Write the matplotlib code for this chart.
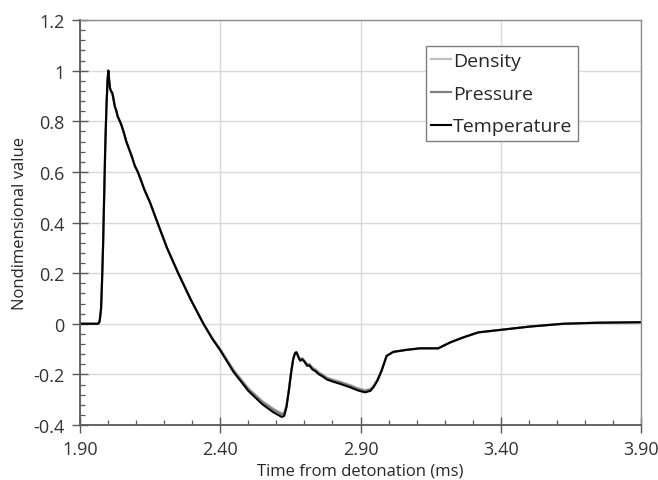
import matplotlib
matplotlib.use("Agg")
import matplotlib.pyplot as plt
from matplotlib.ticker import MultipleLocator, FormatStrFormatter

plt.rcParams['font.family'] = ['Open Sans', 'DejaVu Sans']

# time from detonation (ms)
t = [1.900, 1.965, 1.970, 1.975, 1.978, 1.982, 1.986, 1.990, 1.994, 1.998,
     2.001, 2.004, 2.007, 2.011, 2.015, 2.019, 2.024, 2.030, 2.034, 2.040,
     2.046, 2.055, 2.065, 2.075, 2.085, 2.095, 2.106, 2.118, 2.129, 2.150,
     2.176, 2.210, 2.250, 2.295, 2.340, 2.372, 2.400, 2.447, 2.500, 2.550,
     2.590, 2.619, 2.628, 2.636, 2.645, 2.653, 2.660, 2.667, 2.672, 2.678,
     2.685, 2.692, 2.700, 2.710, 2.718, 2.728, 2.740, 2.752, 2.765, 2.780,
     2.800, 2.829, 2.863, 2.890, 2.916, 2.935, 2.946, 2.960, 2.975, 2.993,
     3.017, 3.064, 3.112, 3.177, 3.219, 3.266, 3.320, 3.400, 3.504, 3.623,
     3.742, 3.900]

temperature = [0.000, 0.000, 0.010, 0.060, 0.150, 0.300, 0.500, 0.700, 0.850, 0.960,
               1.000, 0.960, 0.930, 0.918, 0.912, 0.890, 0.859, 0.840, 0.820, 0.805,
               0.790, 0.760, 0.720, 0.690, 0.660, 0.625, 0.600, 0.565, 0.531, 0.478,
               0.400, 0.300, 0.200, 0.095, 0.000, -0.060, -0.105, -0.190, -0.265, -0.318,
               -0.350, -0.368, -0.364, -0.330, -0.260, -0.190, -0.140, -0.115, -0.113, -0.130,
               -0.146, -0.140, -0.150, -0.166, -0.165, -0.180, -0.188, -0.200, -0.208, -0.220,
               -0.228, -0.238, -0.251, -0.263, -0.271, -0.265, -0.251, -0.225, -0.186, -0.127,
               -0.111, -0.103, -0.097, -0.097, -0.074, -0.054, -0.034, -0.024, -0.011, 0.000,
               0.004, 0.006]

pressure = [0.000, 0.000, 0.010, 0.060, 0.150, 0.300, 0.500, 0.700, 0.850, 0.960,
            1.000, 0.960, 0.930, 0.918, 0.912, 0.890, 0.859, 0.840, 0.820, 0.805,
            0.790, 0.760, 0.720, 0.690, 0.660, 0.625, 0.600, 0.565, 0.531, 0.478,
            0.400, 0.300, 0.200, 0.095, 0.000, -0.058, -0.102, -0.184, -0.258, -0.309,
            -0.340, -0.358, -0.355, -0.325, -0.258, -0.188, -0.139, -0.115, -0.113, -0.129,
            -0.144, -0.138, -0.147, -0.162, -0.161, -0.175, -0.183, -0.195, -0.203, -0.215,
            -0.223, -0.232, -0.245, -0.257, -0.265, -0.260, -0.248, -0.223, -0.185, -0.127,
            -0.111, -0.103, -0.097, -0.097, -0.074, -0.054, -0.034, -0.024, -0.011, 0.000,
            0.004, 0.006]

density = [0.000, 0.000, 0.010, 0.060, 0.150, 0.300, 0.500, 0.700, 0.850, 0.960,
           1.000, 0.960, 0.930, 0.918, 0.912, 0.890, 0.859, 0.840, 0.820, 0.805,
           0.790, 0.760, 0.720, 0.690, 0.660, 0.625, 0.600, 0.565, 0.531, 0.478,
           0.400, 0.300, 0.200, 0.095, 0.000, -0.057, -0.100, -0.181, -0.254, -0.305,
           -0.336, -0.353, -0.350, -0.322, -0.256, -0.187, -0.138, -0.114, -0.112, -0.128,
           -0.142, -0.136, -0.145, -0.160, -0.159, -0.172, -0.180, -0.192, -0.200, -0.212,
           -0.220, -0.229, -0.242, -0.254, -0.262, -0.257, -0.246, -0.222, -0.184, -0.127,
           -0.111, -0.103, -0.097, -0.097, -0.074, -0.054, -0.034, -0.024, -0.011, 0.000,
           0.004, 0.006]

x_major = [1.90, 2.40, 2.90, 3.40, 3.90]

fig = plt.figure(figsize=(6.58, 4.81), dpi=100, facecolor="white")
ax = fig.add_axes([0.1216, 0.1143, 0.8526, 0.842])

ax.plot(t, density, color="#bfbfbf", lw=1.6, label="Density")
ax.plot(t, pressure, color="#7f7f7f", lw=1.6, label="Pressure")
ax.plot(t, temperature, color="black", lw=1.5, label="Temperature")

ax.set_xlim(1.90, 3.90)
ax.set_ylim(-0.4, 1.2)
ax.set_xticks(x_major)
ax.xaxis.set_minor_locator(MultipleLocator(0.1))
ax.yaxis.set_major_locator(MultipleLocator(0.2))
ax.yaxis.set_minor_locator(MultipleLocator(0.04))
ax.xaxis.set_major_formatter(FormatStrFormatter("%.2f"))
ax.yaxis.set_major_formatter(plt.FuncFormatter(lambda v, p: f"{v:g}" if abs(v) > 1e-9 else "0"))

ax.grid(True, which="major", color="#d9d9d9", lw=1.0)
ax.set_axisbelow(True)
ax.tick_params(which="major", direction="inout", length=12, width=1.0, color="#595959",
               labelsize=13, labelcolor="#333333", pad=5)
ax.tick_params(which="minor", direction="in", length=3.5, width=0.9, color="#595959")

for side in ["left", "bottom"]:
    ax.spines[side].set_color("#595959")
    ax.spines[side].set_linewidth(1.3)
for side in ["top", "right"]:
    ax.spines[side].set_color("#8c8c8c")
    ax.spines[side].set_linewidth(1.0)

ax.set_xlabel("Time from detonation (ms)", fontsize=12, color="#262626", labelpad=3)
ax.set_ylabel("Nondimensional value", fontsize=12, color="#262626", labelpad=4)

leg = ax.legend(loc="upper left", bbox_to_anchor=(0.616, 0.935), fontsize=14,
                frameon=True, fancybox=False, edgecolor="#7f7f7f", framealpha=1,
                handlelength=1.0, handletextpad=0.1, borderpad=0.3, labelspacing=0.75,
                borderaxespad=0)
leg.get_frame().set_linewidth(1.0)
for txt in leg.get_texts():
    txt.set_color("#262626")

fig.savefig("out.png", dpi=100)
